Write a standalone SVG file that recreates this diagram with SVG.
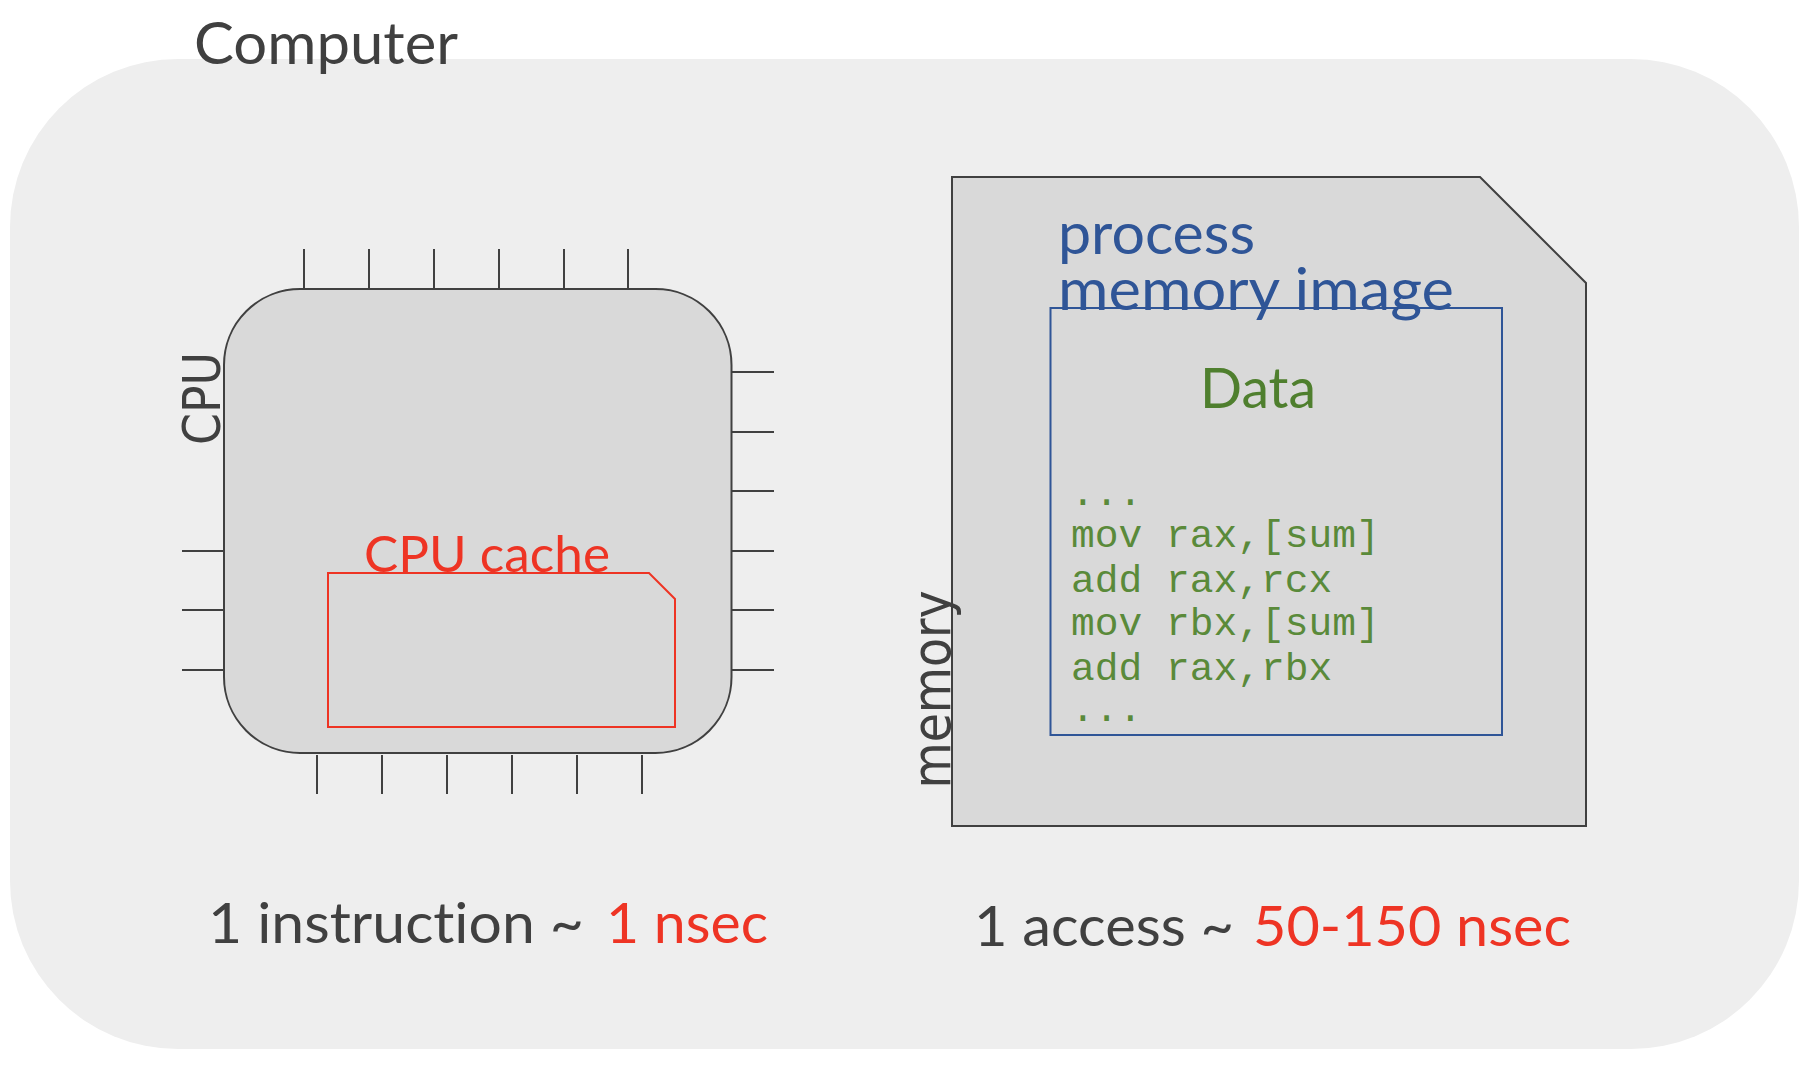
<svg xmlns="http://www.w3.org/2000/svg" width="1818" height="1076" viewBox="0 0 1818 1076">
<style>
.sans{font-family:Lato,"Open Sans","Liberation Sans",sans-serif;font-variant-ligatures:none}
.vsans{font-family:"DejaVu Sans","Liberation Sans",sans-serif}
.mono{font-family:"Liberation Mono","DejaVu Sans Mono",monospace;font-size:39.6px;fill:#5a8a3a}
.dark{fill:#404040}
.red{fill:#ee3424}
.pin{stroke:#404040;stroke-width:2;fill:none}
</style>
<rect width="1818" height="1076" fill="#ffffff"/>
<g id="computer">
<rect x="10" y="59" width="1789" height="990" rx="168" ry="168" fill="#eeeeee"/>
<text class="sans dark" x="194" y="63.5" font-size="59" textLength="264" lengthAdjust="spacingAndGlyphs">Computer</text>
</g>
<g id="cpu">
<g class="pin">
<path d="M304,249V289M369,249V289M434,249V289M499,249V289M564,249V289M628,249V289"/>
<path d="M317,755V794M382,755V794M447,755V794M512,755V794M577,755V794M642,755V794"/>
<path d="M731,372H774M731,432H774M731,491H774M731,551H774M731,610H774M731,670H774"/>
<path d="M182,551H224M182,610H224M182,670H224"/>
</g>
<rect x="224" y="289" width="507.5" height="464" rx="76" ry="76" fill="#d9d9d9" stroke="#404040" stroke-width="2"/>
<text class="vsans dark" transform="translate(220,445) rotate(-90)" x="0" y="0" font-size="52" textLength="93" lengthAdjust="spacingAndGlyphs">CPU</text>
</g>
<g id="cpu-cache">
<path d="M328,573H649L675,599V727H328Z" fill="#d9d9d9" stroke="#ee3424" stroke-width="2"/>
<text class="sans red" x="364" y="571.5" font-size="51" textLength="246" lengthAdjust="spacingAndGlyphs">CPU cache</text>
</g>
<g id="memory">
<path d="M952,177H1480L1586,283V826H952Z" fill="#d9d9d9" stroke="#404040" stroke-width="2"/>
<text class="vsans dark" transform="translate(949.5,788.5) rotate(-90)" x="0" y="0" font-size="53.5" textLength="198" lengthAdjust="spacingAndGlyphs">memory</text>
</g>
<g id="process-image">
<rect x="1050.5" y="308" width="451.5" height="427" fill="none" stroke="#2f5597" stroke-width="2"/>
<text class="sans" fill="#2f5597" font-size="59"><tspan x="1058" y="253.5" textLength="197" lengthAdjust="spacingAndGlyphs">process</tspan><tspan x="1058" y="310" textLength="396" lengthAdjust="spacingAndGlyphs">memory image</tspan></text>
<text class="sans" fill="#4f7f2e" x="1200" y="408" font-size="57" textLength="116" lengthAdjust="spacingAndGlyphs">Data</text>
<text class="mono" x="1071" y="505">...</text>
<text class="mono" x="1071" y="547">mov rax,[sum]</text>
<text class="mono" x="1071" y="592">add rax,rcx</text>
<text class="mono" x="1071" y="635">mov rbx,[sum]</text>
<text class="mono" x="1071" y="680">add rax,rbx</text>
<text class="mono" x="1071" y="721">...</text>
</g>
<g id="cpu-timing">
<text class="sans dark" x="208" y="943" font-size="57" textLength="376" lengthAdjust="spacingAndGlyphs">1 instruction ~</text>
<text class="sans red" x="606" y="943" font-size="57" textLength="162" lengthAdjust="spacingAndGlyphs">1 nsec</text>
</g>
<g id="memory-timing">
<text class="sans dark" x="974" y="946" font-size="57" textLength="260" lengthAdjust="spacingAndGlyphs">1 access ~</text>
<text class="sans red" x="1253" y="946" font-size="57" textLength="318" lengthAdjust="spacingAndGlyphs">50-150 nsec</text>
</g>
<g id="connectors"/>
</svg>
